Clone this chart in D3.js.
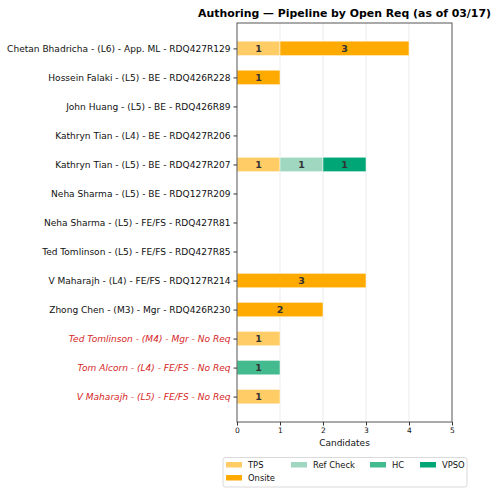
<!DOCTYPE html>
<html>
<head>
<meta charset="utf-8">
<script src="https://cdn.jsdelivr.net/npm/d3@7"></script>
<style>
  body { margin: 0; background: #fff; }
  svg { font-family: "DejaVu Sans", sans-serif; }
</style>
</head>
<body>
<svg id="chart" width="500" height="493"></svg>
<script>
// rows, top to bottom
const reqs = [
  "Chetan Bhadricha - (L6) - App. ML - RDQ427R129",
  "Hossein Falaki - (L5) - BE - RDQ426R228",
  "John Huang - (L5) - BE - RDQ426R89",
  "Kathryn Tian - (L4) - BE - RDQ427R206",
  "Kathryn Tian - (L5) - BE - RDQ427R207",
  "Neha Sharma - (L5) - BE - RDQ127R209",
  "Neha Sharma - (L5) - FE/FS - RDQ427R81",
  "Ted Tomlinson - (L5) - FE/FS - RDQ427R85",
  "V Maharajh - (L4) - FE/FS - RDQ127R214",
  "Zhong Chen - (M3) - Mgr - RDQ426R230",
  "Ted Tomlinson - (M4) - Mgr - No Req",
  "Tom Alcorn - (L4) - FE/FS - No Req",
  "V Maharajh - (L5) - FE/FS - No Req"
];
const noReq = [false, false, false, false, false, false, false, false, false, false, true, true, true];

const stages = ["TPS", "Onsite", "Ref Check", "HC", "VPSO"];
const colors = ["#ffcc66", "#ffaa00", "#9fd7c0", "#44bb8e", "#00a676"];

const tps      = [1, 0, 0, 0, 1, 0, 0, 0, 0, 0, 1, 0, 1];
const onsite   = [3, 1, 0, 0, 0, 0, 0, 0, 3, 2, 0, 0, 0];
const refCheck = [0, 0, 0, 0, 1, 0, 0, 0, 0, 0, 0, 0, 0];
const hc       = [0, 0, 0, 0, 0, 0, 0, 0, 0, 0, 0, 1, 0];
const vpso     = [0, 0, 0, 0, 1, 0, 0, 0, 0, 0, 0, 0, 0];

const xTicks = [0, 1, 2, 3, 4, 5];

const rows = reqs.map((r, i) => ({
  req: r, "TPS": tps[i], "Onsite": onsite[i], "Ref Check": refCheck[i], "HC": hc[i], "VPSO": vpso[i]
}));

const svg = d3.select("#chart");
const m = { left: 237, right: 452, top: 23, bottom: 422 };

const x = d3.scaleLinear().domain([0, 5]).range([m.left, m.right]);
// matplotlib-like limits: bars are 0.5 tall, 5% margins
const y = d3.scaleLinear().domain([-0.875, reqs.length - 1 + 0.875]).range([m.top, m.bottom]);
const barH = y(0.25) - y(-0.25);

// grid
svg.append("g").selectAll("line")
  .data(xTicks.slice(1, -1))
  .join("line")
    .attr("x1", d => x(d)).attr("x2", d => x(d))
    .attr("y1", m.top).attr("y2", m.bottom)
    .attr("stroke", "#e6e6e6").attr("stroke-width", 0.8);

const series = d3.stack().keys(stages)(rows);

const g = svg.append("g");
series.forEach((s, si) => {
  s.forEach((d, i) => {
    if (d[1] - d[0] <= 0) return;
    g.append("rect")
      .attr("x", x(d[0]))
      .attr("y", y(i) - barH / 2)
      .attr("width", x(d[1]) - x(d[0]))
      .attr("height", barH)
      .attr("fill", colors[si])
      .attr("stroke", "#fff")
      .attr("stroke-width", 0.5);
    g.append("text")
      .attr("x", x((d[0] + d[1]) / 2))
      .attr("y", y(i))
      .attr("dy", "0.35em")
      .attr("text-anchor", "middle")
      .attr("font-size", 9.5)
      .attr("font-weight", "bold")
      .attr("fill", "#333")
      .text(d[1] - d[0]);
  });
});

// frame
svg.append("rect")
  .attr("x", m.left).attr("y", m.top)
  .attr("width", m.right - m.left).attr("height", m.bottom - m.top)
  .attr("fill", "none").attr("stroke", "#555").attr("stroke-width", 1);

// x axis
const xAxis = svg.append("g")
  .attr("transform", `translate(0,${m.bottom})`)
  .call(d3.axisBottom(x).tickValues(xTicks).tickFormat(d3.format("d")).tickSize(3.5).tickPadding(2));
xAxis.select(".domain").remove();
xAxis.selectAll("line").attr("stroke", "#333");
xAxis.selectAll("text").attr("font-size", 7.5).attr("fill", "#111").attr("font-family", "DejaVu Sans");

// y axis
const yAxis = svg.append("g")
  .attr("transform", `translate(${m.left},0)`)
  .call(d3.axisLeft(y).tickValues(d3.range(reqs.length)).tickFormat(i => reqs[i]).tickSize(3.5).tickPadding(3));
yAxis.select(".domain").remove();
yAxis.selectAll("line").attr("stroke", "#333");
yAxis.selectAll("text")
  .attr("font-size", 9.05)
  .attr("font-family", "DejaVu Sans")
  .attr("fill", (i) => noReq[i] ? "#d62728" : "#111")
  .attr("font-style", (i) => noReq[i] ? "italic" : "normal");

svg.append("text")
  .attr("x", (m.left + m.right) / 2).attr("y", 446)
  .attr("text-anchor", "middle")
  .attr("font-size", 9).attr("fill", "#111")
  .text("Candidates");

svg.append("text")
  .attr("x", (m.left + m.right) / 2).attr("y", 17)
  .attr("text-anchor", "middle")
  .attr("font-size", 10.9).attr("font-weight", "bold").attr("fill", "#000")
  .text("Authoring — Pipeline by Open Req (as of 03/17)");

// legend, 4 columns filled column-wise
const legend = svg.append("g");
legend.append("rect")
  .attr("x", 223).attr("y", 457.5).attr("width", 244).attr("height", 29.5)
  .attr("rx", 2).attr("fill", "#fff").attr("stroke", "#d0d0d0").attr("stroke-width", 0.8);
const colX = [226, 291, 370, 420];
const legPos = [[0, 0], [0, 1], [1, 0], [2, 0], [3, 0]];
stages.forEach((s, i) => {
  const [c, r] = legPos[i];
  const lx = colX[c], ly = 465 + r * 13;
  legend.append("rect")
    .attr("x", lx).attr("y", ly - 3).attr("width", 16).attr("height", 5.5)
    .attr("fill", colors[i]);
  legend.append("text")
    .attr("x", lx + 22).attr("y", ly)
    .attr("dy", "0.35em")
    .attr("font-size", 8.4).attr("fill", "#111")
    .text(s);
});
</script>
</body>
</html>
